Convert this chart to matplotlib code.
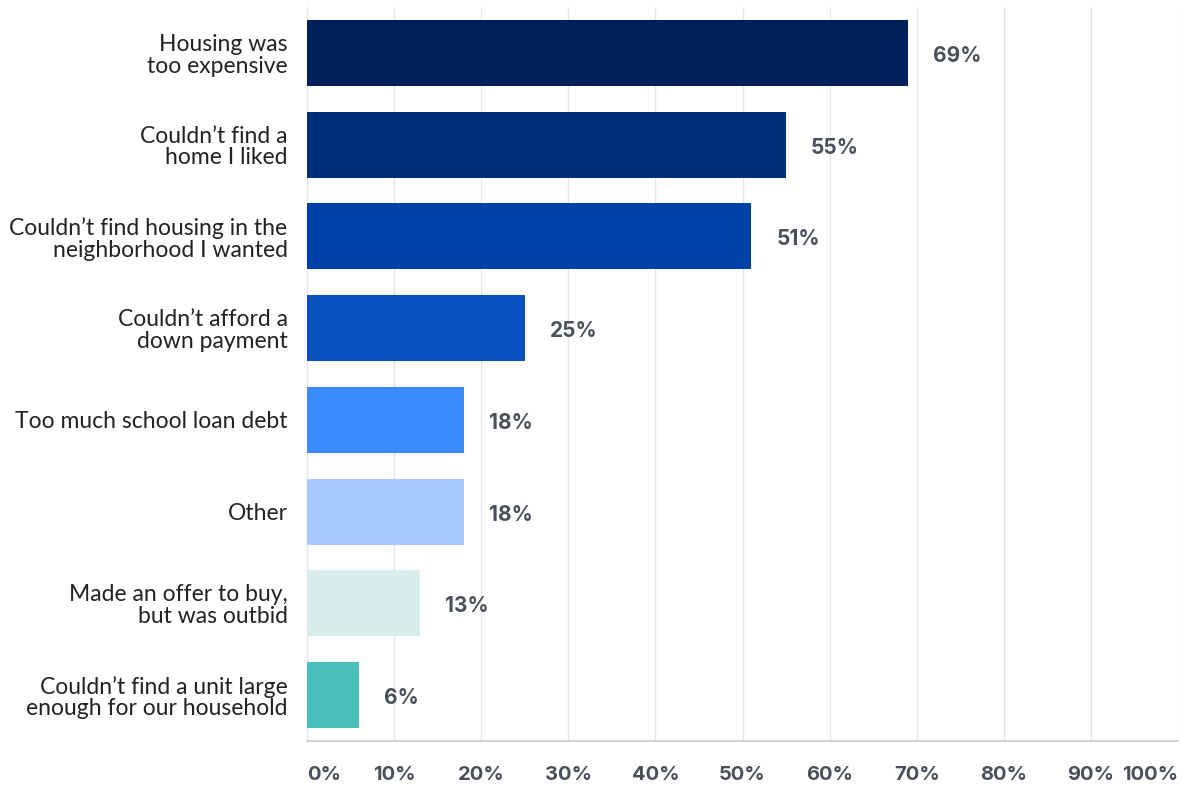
import matplotlib
matplotlib.use('Agg')
import matplotlib.pyplot as plt

categories = [
    "Housing was\ntoo expensive",
    "Couldn\u2019t find a\nhome I liked",
    "Couldn\u2019t find housing in the\nneighborhood I wanted",
    "Couldn\u2019t afford a\ndown payment",
    "Too much school loan debt",
    "Other",
    "Made an offer to buy,\nbut was outbid",
    "Couldn\u2019t find a unit large\nenough for our household",
]
values = [69, 55, 51, 25, 18, 18, 13, 6]
bar_colors = ["#001f5b", "#002f7a", "#0041a8", "#0a50c0",
              "#3b8bff", "#a8c7fc", "#d9edec", "#4bbfbd"]
ticks = [0, 10, 20, 30, 40, 50, 60, 70, 80, 90, 100]

fig = plt.figure(figsize=(11.82, 7.86), dpi=100)
ax = fig.add_axes([307 / 1182, 1 - 741 / 786, 871 / 1182, 734 / 786])

pos = range(len(categories))
ax.barh(pos, values, height=0.72, color=bar_colors, zorder=3)

# value labels sit a fixed distance right of each bar end
for y, v in zip(pos, values):
    ax.annotate(f"{v}%", xy=(v, y), xytext=(25, -3), textcoords="offset pixels",
                va="center", ha="left", fontsize=15, fontweight="bold",
                family="Inter", color="#4a505a")

ax.set_xlim(0, 100)
ax.set_ylim(len(categories) - 0.5, -0.5)
ax.set_xticks(ticks)
ax.set_xticklabels([f"{t}%" for t in ticks], family="Inter", fontweight="bold",
                   fontsize=14.5, color="#4a505a")
xt = ax.get_xticklabels()
xt[0].set_ha("left")
xt[-1].set_ha("right")
ax.set_yticks(list(pos))
ax.set_yticklabels(categories, family="Lato", fontsize=16.5, color="#222222",
                   linespacing=1.05)

ax.tick_params(axis="x", length=0, pad=18)
ax.tick_params(axis="y", length=0, pad=14)
ax.grid(axis="x", color="#e6e6e6", linewidth=1, zorder=0)
for side in ["top", "right"]:
    ax.spines[side].set_visible(False)
ax.spines["left"].set_color("#e6e6e6")
ax.spines["bottom"].set_color("#cccccc")
ax.spines["bottom"].set_linewidth(1.2)

fig.savefig("out.png", dpi=100)
